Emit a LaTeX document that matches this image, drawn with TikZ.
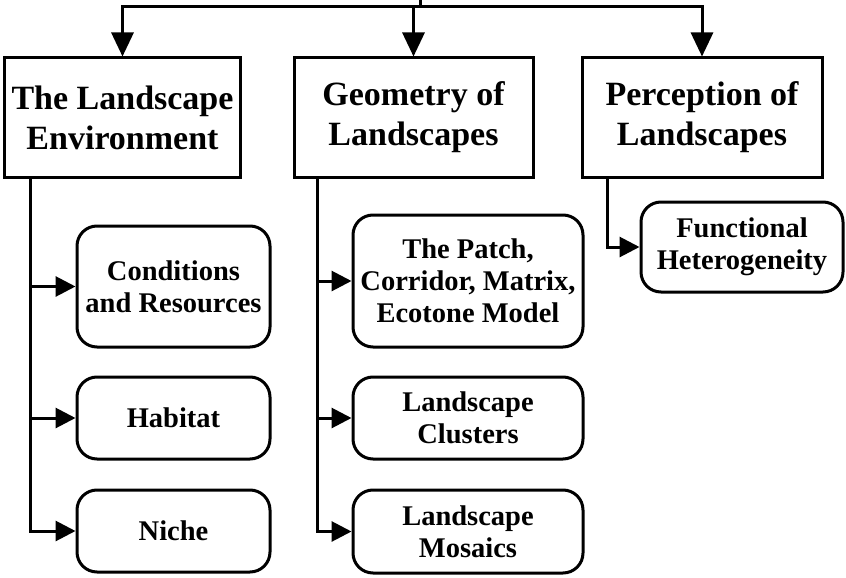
\documentclass[tikz,border=0pt]{standalone}
\usepackage{fontspec}
\setmainfont{Liberation Serif}
\usetikzlibrary{arrows.meta}

\tikzset{
  topbox/.style={draw, line width=3pt, minimum width=236pt, minimum height=119pt,
    inner sep=0pt, align=center, font=\fontsize{34}{40}\selectfont\bfseries},
  subbox/.style={draw, line width=3pt, rounded corners=20pt, inner sep=0pt,
    align=center, font=\fontsize{28.5}{32}\selectfont\bfseries},
  link/.style={line width=3pt},
  downarrow/.style={link, -{Triangle[length=24pt,width=22pt]}},
  sidearrow/.style={link, -{Triangle[length=20pt,width=20pt]}},
}

\begin{document}
\begin{tikzpicture}[x=1pt, y=-1pt]
  \useasboundingbox (0,0) rectangle (846,578);

  % main categories
  \node[topbox] (env) at (122.5,117.5) {The Landscape\\Environment};
  \node[topbox, minimum width=239pt] (geo) at (413.5,117.5) {Geometry of\\Landscapes};
  \node[topbox, minimum width=240pt] (per) at (702,117.5) {Perception of\\Landscapes};

  % sub-topics
  \node[subbox, minimum width=193pt, minimum height=121pt] (cond) at (173.5,286.5) {Conditions\\and Resources};
  \node[subbox, minimum width=193pt, minimum height=82pt] (hab) at (173.5,418) {Habitat};
  \node[subbox, minimum width=193pt, minimum height=82pt] (niche) at (173.5,531) {Niche};

  \node[subbox, minimum width=230pt, minimum height=132pt] (patch) at (468,281) {The Patch,\\Corridor, Matrix,\\Ecotone Model};
  \node[subbox, minimum width=230pt, minimum height=82pt] (clus) at (468,418) {Landscape\\Clusters};
  \node[subbox, minimum width=230pt, minimum height=83pt] (mosa) at (468,531.5) {Landscape\\Mosaics};

  \node[subbox, minimum width=202pt, minimum height=90pt] (func) at (742,247) {Functional\\Heterogeneity};

  % distribution line at the top
  \coordinate (root) at (420,0);
  \coordinate (hub) at (420,7);
  \draw[link] (root) -- (hub);
  \draw[downarrow] (hub) -| (env.north);
  \draw[downarrow] (hub -| geo.north) -- (geo.north);
  \draw[link] (hub -| env.north) -- (hub -| per.north);
  \draw[downarrow] (hub) -| (per.north);

  % trunks from each category
  \coordinate (t1) at ([xshift=-92.5pt]env.south);
  \coordinate (t2) at ([xshift=-96.5pt]geo.south);
  \coordinate (t3) at ([xshift=-95pt]per.south);

  \draw[sidearrow] (t1) |- (cond.west);
  \draw[sidearrow] (t1) |- (hab.west);
  \draw[sidearrow] (t1) |- (niche.west);

  \draw[sidearrow] (t2) |- (patch.west);
  \draw[sidearrow] (t2) |- (clus.west);
  \draw[sidearrow] (t2) |- (mosa.west);

  \draw[sidearrow] (t3) |- (func.west);
\end{tikzpicture}
\end{document}
